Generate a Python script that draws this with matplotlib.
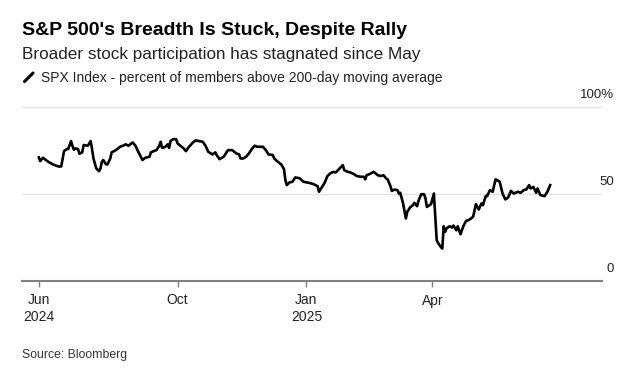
import pandas as pd
import matplotlib
matplotlib.use("Agg")
import matplotlib.pyplot as plt
from matplotlib.lines import Line2D

plt.rcParams['font.family'] = ['Liberation Sans', 'DejaVu Sans']

# percent of SPX members above 200-day moving average
dates = [
    "2024-06-24", "2024-06-25", "2024-06-27", "2024-06-30", "2024-07-04", "2024-07-08",
    "2024-07-10", "2024-07-12", "2024-07-14", "2024-07-15", "2024-07-17", "2024-07-18",
    "2024-07-19", "2024-07-20", "2024-07-22", "2024-07-23", "2024-07-25", "2024-07-26",
    "2024-07-29", "2024-07-30", "2024-07-31", "2024-08-01", "2024-08-02", "2024-08-04",
    "2024-08-06", "2024-08-07", "2024-08-08", "2024-08-09", "2024-08-11", "2024-08-12",
    "2024-08-14", "2024-08-15", "2024-08-18", "2024-08-19", "2024-08-21", "2024-08-23",
    "2024-08-25", "2024-08-27", "2024-08-30", "2024-09-01", "2024-09-03", "2024-09-06",
    "2024-09-08", "2024-09-11", "2024-09-12", "2024-09-14", "2024-09-16", "2024-09-18",
    "2024-09-19", "2024-09-20", "2024-09-22", "2024-09-24", "2024-09-25", "2024-09-26",
    "2024-09-28", "2024-09-30", "2024-10-01", "2024-10-03", "2024-10-05", "2024-10-07",
    "2024-10-09", "2024-10-12", "2024-10-14", "2024-10-16", "2024-10-19", "2024-10-21",
    "2024-10-23", "2024-10-26", "2024-10-28", "2024-10-29", "2024-10-31", "2024-11-03",
    "2024-11-06", "2024-11-09", "2024-11-12", "2024-11-14", "2024-11-15", "2024-11-17",
    "2024-11-19", "2024-11-21", "2024-11-23", "2024-11-25", "2024-11-27", "2024-12-01",
    "2024-12-03", "2024-12-05", "2024-12-08", "2024-12-09", "2024-12-11", "2024-12-14",
    "2024-12-16", "2024-12-17", "2024-12-18", "2024-12-20", "2024-12-22", "2024-12-24",
    "2024-12-27", "2024-12-30", "2025-01-03", "2025-01-06", "2025-01-09", "2025-01-10",
    "2025-01-12", "2025-01-14", "2025-01-16", "2025-01-18", "2025-01-20", "2025-01-22",
    "2025-01-24", "2025-01-27", "2025-01-28", "2025-01-30", "2025-02-02", "2025-02-04",
    "2025-02-06", "2025-02-09", "2025-02-11", "2025-02-12", "2025-02-13", "2025-02-15",
    "2025-02-18", "2025-02-21", "2025-02-23", "2025-02-25", "2025-02-27", "2025-02-28",
    "2025-03-02", "2025-03-03", "2025-03-05", "2025-03-07", "2025-03-08", "2025-03-09",
    "2025-03-11", "2025-03-13", "2025-03-14", "2025-03-16", "2025-03-18", "2025-03-19",
    "2025-03-21", "2025-03-22", "2025-03-24", "2025-03-26", "2025-03-27", "2025-03-28",
    "2025-03-31", "2025-04-02", "2025-04-03", "2025-04-04", "2025-04-05", "2025-04-07",
    "2025-04-08", "2025-04-09", "2025-04-10", "2025-04-11", "2025-04-13", "2025-04-15",
    "2025-04-16", "2025-04-18", "2025-04-19", "2025-04-21", "2025-04-23", "2025-04-25",
    "2025-04-27", "2025-04-30", "2025-05-02", "2025-05-04", "2025-05-06", "2025-05-07",
    "2025-05-09", "2025-05-10", "2025-05-12", "2025-05-14", "2025-05-16", "2025-05-17",
    "2025-05-19", "2025-05-21", "2025-05-23", "2025-05-25", "2025-05-27", "2025-05-29",
    "2025-06-01", "2025-06-03", "2025-06-05", "2025-06-07", "2025-06-09", "2025-06-10",
    "2025-06-12", "2025-06-14", "2025-06-15", "2025-06-17", "2025-06-20", "2025-06-22",
    "2025-06-24",
]
pct_above = [
    70.9, 68.8, 70.7, 68.8, 66.9, 65.7,
    65.7, 74.5, 75.7, 75.7, 80.3, 77.6,
    75.3, 76.1, 75.7, 73.0, 73.8, 78.0,
    77.6, 79.0, 80.3, 75.7, 70.3, 64.6,
    63.0, 64.6, 68.4, 69.4, 66.9, 66.9,
    70.3, 73.8, 75.1, 75.7, 77.0, 77.6,
    78.4, 77.6, 79.5, 77.6, 74.1, 69.4,
    70.7, 71.3, 73.8, 74.5, 75.1, 77.6,
    79.9, 76.4, 76.8, 78.4, 76.4, 80.3,
    81.4, 81.4, 79.0, 77.6, 76.4, 74.5,
    76.8, 79.5, 80.7, 80.3, 79.9, 77.6,
    74.1, 72.6, 73.8, 72.2, 69.9, 71.3,
    75.1, 75.1, 73.2, 72.6, 70.3, 70.3,
    71.3, 73.2, 75.7, 77.6, 77.0, 77.0,
    75.1, 72.6, 72.3, 70.3, 68.8, 66.9,
    64.2, 57.9, 55.0, 56.6, 56.9, 59.4,
    59.0, 56.9, 56.3, 55.6, 54.4, 51.2,
    53.7, 56.3, 60.2, 61.7, 62.6, 62.3,
    64.0, 66.5, 63.6, 62.8, 62.1, 61.3,
    60.2, 59.8, 59.8, 58.3, 60.7, 61.3,
    62.6, 60.7, 60.2, 60.7, 58.8, 58.3,
    54.4, 51.7, 52.5, 52.1, 50.2, 50.6,
    44.5, 35.9, 39.7, 42.2, 43.5, 44.8,
    42.9, 46.0, 49.8, 49.8, 47.4, 42.5,
    44.1, 50.2, 36.8, 23.4, 21.8, 19.5,
    18.6, 31.4, 28.2, 30.1, 31.4, 30.7,
    31.8, 29.1, 31.4, 26.8, 31.4, 34.5,
    35.0, 36.8, 44.1, 41.0, 44.5, 43.5,
    48.7, 48.7, 52.1, 51.2, 58.3, 57.9,
    56.9, 50.2, 46.8, 47.9, 51.7, 50.2,
    51.2, 50.6, 52.1, 52.5, 55.0, 53.1,
    54.0, 50.6, 53.1, 49.3, 48.7, 51.2,
    55.0,
]

tick_dates = ["2024-06-24", "2024-10-01", "2025-01-01", "2025-04-01"]
tick_labels = ["Jun\n2024", "Oct", "Jan\n2025", "Apr"]
y_ticks = [0, 50, 100]
y_labels = ["0", "50", "100%"]

x = pd.to_datetime(dates)

fig = plt.figure(figsize=(6.38, 3.79), dpi=100)
W, H = 638, 379
ax = fig.add_axes([22 / W, 98 / H, 580 / W, 174.3 / H])

ax.plot(x, pct_above, color="black", linewidth=1.9, solid_joinstyle="round")

ax.set_xlim(pd.Timestamp("2024-06-12"), pd.Timestamp("2025-07-31"))
ax.set_ylim(0, 100)

# light gridlines at 50 and 100
for v in y_ticks[1:]:
    ax.axhline(v, color="#e2e2e2", linewidth=1.0, zorder=0)

for s in ["top", "right", "left"]:
    ax.spines[s].set_visible(False)
ax.spines["bottom"].set_color("#808080")
ax.spines["bottom"].set_linewidth(1.5)

ax.set_yticks([])
ax.set_xticks(pd.to_datetime(tick_dates))
ax.set_xticklabels(tick_labels, fontsize=10, color="#222222")
ax.tick_params(axis="x", length=4, width=1, color="#808080", pad=5)

# y labels sit above their gridlines, right of the plot
for v, lbl in zip(y_ticks, y_labels):
    ax.annotate(lbl, xy=(1.0, v), xycoords=("axes fraction", "data"),
                xytext=(12, 6), textcoords="offset pixels",
                ha="right", va="bottom", fontsize=9.5, color="#222222",
                annotation_clip=False)

fig.text(22 / W, 1 - 35 / H, "S&P 500's Breadth Is Stuck, Despite Rally",
         fontsize=14, fontweight="bold", va="baseline", ha="left")
fig.text(22 / W, 1 - 59 / H, "Broader stock participation has stagnated since May",
         fontsize=12.3, va="baseline", ha="left", color="#222222")
fig.add_artist(Line2D([24.5 / W, 33 / W], [1 - 81.5 / H, 1 - 73 / H],
                      color="black", linewidth=2.2, solid_capstyle="round"))
fig.text(41 / W, 1 - 82 / H, "SPX Index - percent of members above 200-day moving average",
         fontsize=10, va="baseline", ha="left", color="#222222")
fig.text(22 / W, 1 - 358 / H, "Source: Bloomberg", fontsize=8.8, va="baseline",
         ha="left", color="#333333")

fig.savefig("out.png", dpi=100)
